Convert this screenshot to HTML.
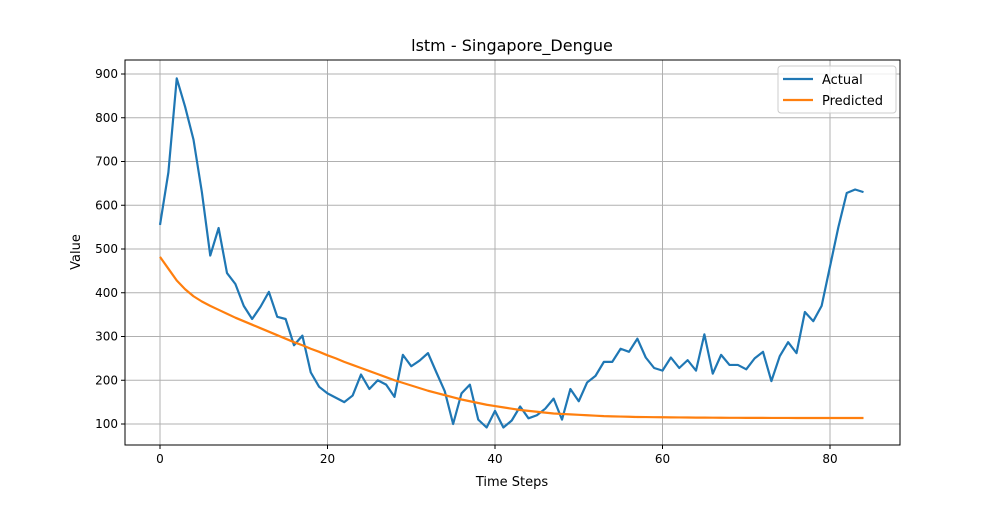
<!DOCTYPE html>
<html><head><meta charset="utf-8"><style>
body{margin:0;background:#fff;font-family:"Liberation Sans","DejaVu Sans",sans-serif}
text{font-family:"DejaVu Sans","Liberation Sans",sans-serif}
</style></head><body>
<svg id="chart" width="1000" height="500" xmlns="http://www.w3.org/2000/svg">
<rect width="1000" height="500" fill="#fff"/>
<g id="grid"></g>
<g id="axes"></g>
<g id="series"></g>
<text x="512" y="51" font-size="16" text-anchor="middle">lstm - Singapore_Dengue</text>
<text x="512" y="486" font-size="13" text-anchor="middle">Time Steps</text>
<text x="80" y="252" font-size="13" text-anchor="middle" transform="rotate(-90 80 252)">Value</text>
<g>
<rect x="778" y="66" width="118" height="47" rx="3" fill="#fff" fill-opacity="0.8" stroke="#ccc"/>
<line x1="783" y1="79" x2="813" y2="79" stroke="#1f77b4" stroke-width="2.2"/>
<text x="822" y="84" font-size="13">Actual</text>
<line x1="783" y1="100" x2="813" y2="100" stroke="#ff7f0e" stroke-width="2.2"/>
<text x="822" y="105" font-size="13">Predicted</text>
</g>
</svg>
<script>
const xTicks=[0,20,40,60,80];
const yTicks=[100,200,300,400,500,600,700,800,900];
const actual=[555,675,890,825,750,630,485,548,445,420,370,340,368,402,345,340,280,302,218,185,170,160,150,165,213,180,200,190,162,258,232,245,262,218,175,100,170,190,110,92,130,92,108,140,113,120,135,158,110,180,152,195,210,242,242,272,265,295,252,228,222,252,228,246,222,305,215,258,235,235,225,250,265,198,255,287,262,356,335,370,460,550,628,636,630];
const predicted=[482,455,428,408,392,380,370,361,352,343,335,327,319,311,303,295,287,280,272,265,257,250,242,235,228,221,214,207,200,194,188,182,176,171,166,161,156,152,148,144,141,138,135,132,130,128,126,124,123,122,121,120,119,118,117.5,117,116.5,116,115.8,115.6,115.4,115.2,115,114.8,114.6,114.5,114.4,114.3,114.2,114.1,114,114,114,113.9,113.9,113.8,113.8,113.8,113.7,113.7,113.7,113.7,113.7,113.7,113.7];
const X=v=>160+v*8.375, Y=v=>74+(900-v)*0.4375;
const L=125,R=900,T=60,B=445,ns="http://www.w3.org/2000/svg";
function mk(p,tag,a){const e=document.createElementNS(ns,tag);for(const k in a)e.setAttribute(k,a[k]);p.appendChild(e);return e;}
const grid=document.getElementById('grid'),axes=document.getElementById('axes'),ser=document.getElementById('series');
xTicks.forEach(t=>{
 const g=mk(grid,'line',{x1:X(t),x2:X(t),y1:T,y2:B,stroke:'#b0b0b0','stroke-width':1});
 
 
 mk(axes,'line',{x1:X(t),x2:X(t),y1:B,y2:B+4,stroke:'#000'});
 const tx=mk(axes,'text',{x:X(t),y:B+18,'font-size':12,'text-anchor':'middle'});tx.textContent=t;
 
 
});
yTicks.forEach(t=>{
 const g=mk(grid,'line',{x1:L,x2:R,y1:Y(t),y2:Y(t),stroke:'#b0b0b0','stroke-width':1});
 
 
 mk(axes,'line',{x1:L-4,x2:L,y1:Y(t),y2:Y(t),stroke:'#000'});
 const tx=mk(axes,'text',{x:L-7,y:Y(t)+4,'font-size':12,'text-anchor':'end'});tx.textContent=t;
 
 
});
const fr=mk(axes,'rect',{x:L,y:T,width:R-L,height:B-T,fill:'none',stroke:'#000','stroke-width':1});


const pa=mk(ser,'polyline',{points:actual.map((v,i)=>X(i)+','+Y(v)).join(' '),fill:'none',stroke:'#1f77b4','stroke-width':2.2,'stroke-linejoin':'round'});


const pp=mk(ser,'polyline',{points:predicted.map((v,i)=>X(i)+','+Y(v)).join(' '),fill:'none',stroke:'#ff7f0e','stroke-width':2.2,'stroke-linejoin':'round'});


</script>
</body></html>
